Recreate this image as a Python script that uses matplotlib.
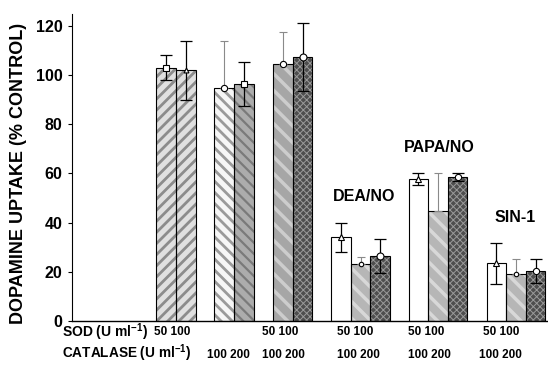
import matplotlib
matplotlib.use("Agg")
import matplotlib.pyplot as plt

plt.rcParams['font.family'] = ['Liberation Sans', 'DejaVu Sans']
plt.rcParams['font.weight'] = 'bold'
plt.rcParams['mathtext.fontset'] = 'custom'
plt.rcParams['mathtext.rm'] = 'Liberation Sans:bold'
plt.rcParams['mathtext.it'] = 'Liberation Sans:bold'
plt.rcParams['mathtext.bf'] = 'Liberation Sans:bold'
plt.rcParams['hatch.linewidth'] = 2.0

# Data (% control)
values = [103, 102, 94.7, 96.3, 104.3, 107.3,
          34.0, 23.2, 26.4,
          57.6, 44.7, 58.7,
          23.4, 19.1, 20.4]
errors = [5, 12, 19, 9, 13, 14,
          6, 3, 6.8,
          2.4, 15.3, 1.6,
          8.4, 6, 5]
group_sizes = [2, 2, 2, 3, 3, 3]
group_names = ["", "", "", "DEA/NO", "PAPA/NO", "SIN-1"]
sod_labels = ["50 100", "50 100", "50 100", "50 100", "50 100"]
catalase_labels = ["100 200", "100 200", "100 200", "100 200", "100 200"]

# Layout / style (axis units ~ pixels from the y axis)
group_centers = [104, 162, 220.7, 288.5, 366, 444]
bar_w = 19.6
sod_x = [100.5, 208, 283, 354.5, 429.5]
cat_x = [156, 211.5, 286.5, 357, 428]
name_pos = [None, None, None, (292.5, 50.5), (367.5, 70.4), (443, 41.9)]

# per bar: (face, hatch, hatch colour, hatch width)
styles = [
    ('#e0e0e0', '///', '#8c8c8c', 2.0), ('#e0e0e0', '///', '#8c8c8c', 2.0),
    ('#f6f6f6', '\\\\\\', '#9a9a9a', 2.0), ('#acacac', '\\\\\\', '#7a7a7a', 1.6),
    ('#a6a6a6', '\\\\', '#cdcdcd', 2.5), ('#4e4e4e', 'xxxxx', '#9a9a9a', 0.7),
    ('white', '', 'white', 1), ('#b6b6b6', '\\\\', '#d8d8d8', 2.5), ('#4e4e4e', 'xxxxx', '#9a9a9a', 0.7),
    ('white', '', 'white', 1), ('#b6b6b6', '\\\\', '#d8d8d8', 2.5), ('#4e4e4e', 'xxxxx', '#9a9a9a', 0.7),
    ('white', '', 'white', 1), ('#b6b6b6', '\\\\', '#d8d8d8', 2.5), ('#4e4e4e', 'xxxxx', '#9a9a9a', 0.7),
]
markers = ['s', '^', 'o', 's', 'o', 'o', '^', 'o', 'o', '^', None, 'o', '^', 'o', 'o']
msizes = [5, 3.5, 4.5, 5, 4.5, 5, 4, 3.2, 5, 4, 0, 4.5, 4, 3.2, 4.5]
upper_only = [False, False, True, False, True, False, False, True, False,
              False, True, False, False, True, False]

xs = []
for c, n in zip(group_centers, group_sizes):
    for i in range(n):
        xs.append(c + (i - (n - 1) / 2) * bar_w)

fig = plt.figure(figsize=(5.48, 3.65), dpi=100)
ax = fig.add_axes([0.1314, 0.1205, 0.8686, 0.8425])

for x, v, (fc, h, hc, hw) in zip(xs, values, styles):
    b = ax.bar(x, v, width=bar_w, color=fc, hatch=h, edgecolor=hc, linewidth=0, zorder=2)
    for p in b:
        if hasattr(p, 'set_hatch_linewidth'):
            p.set_hatch_linewidth(hw)
    ax.bar(x, v, width=bar_w, fill=False, edgecolor='black', linewidth=0.8, zorder=3)

for x, v, e, m, ms, up in zip(xs, values, errors, markers, msizes, upper_only):
    if up:
        ax.errorbar(x, v, yerr=[[0], [e]], fmt='none', ecolor='#8a8a8a',
                    elinewidth=0.8, capsize=3, capthick=0.8, linestyle=':', zorder=4)
    else:
        ax.errorbar(x, v, yerr=e, fmt='none', ecolor='black',
                    elinewidth=0.9, capsize=4, capthick=0.9, zorder=4)
    if m:
        ax.plot(x, v, marker=m, ms=ms, mfc='white', mec='black', mew=0.8,
                linestyle='none', zorder=5)

for name, pos in zip(group_names, name_pos):
    if name:
        ax.text(pos[0], pos[1], name, ha='center', va='center', fontsize=11.5,
                fontweight='bold')

ax.set_xlim(0, 476)
ax.set_ylim(0, 125)
ax.set_yticks([0, 20, 40, 60, 80, 100, 120])
ax.set_xticks([])
ax.tick_params(axis='y', labelsize=11.5, length=3, width=0.8, pad=4)
for lab in ax.get_yticklabels():
    lab.set_fontweight('bold')
ax.spines['top'].set_visible(False)
ax.spines['right'].set_visible(False)
ax.spines['left'].set_linewidth(0.8)
ax.spines['bottom'].set_linewidth(1.0)
ax.set_ylabel("DOPAMINE UPTAKE (% CONTROL)", fontsize=13, fontweight='bold')
ax.yaxis.set_label_coords(-0.094, 0.48)

fig.text(0.114, 0.0904, r"SOD (U ml$^{-1}$)", fontsize=10, fontweight='bold',
         va='center', ha='left')
fig.text(0.114, 0.033, r"CATALASE (U ml$^{-1}$)", fontsize=9.8, fontweight='bold',
         va='center', ha='left')
for x, t in zip(sod_x, sod_labels):
    ax.text(x, -0.036, t, transform=ax.get_xaxis_transform(), ha='center',
            va='center', fontsize=8.5, fontweight='bold')
for x, t in zip(cat_x, catalase_labels):
    ax.text(x, -0.11, t, transform=ax.get_xaxis_transform(), ha='center',
            va='center', fontsize=8.5, fontweight='bold')

fig.savefig("out.png", dpi=100)
